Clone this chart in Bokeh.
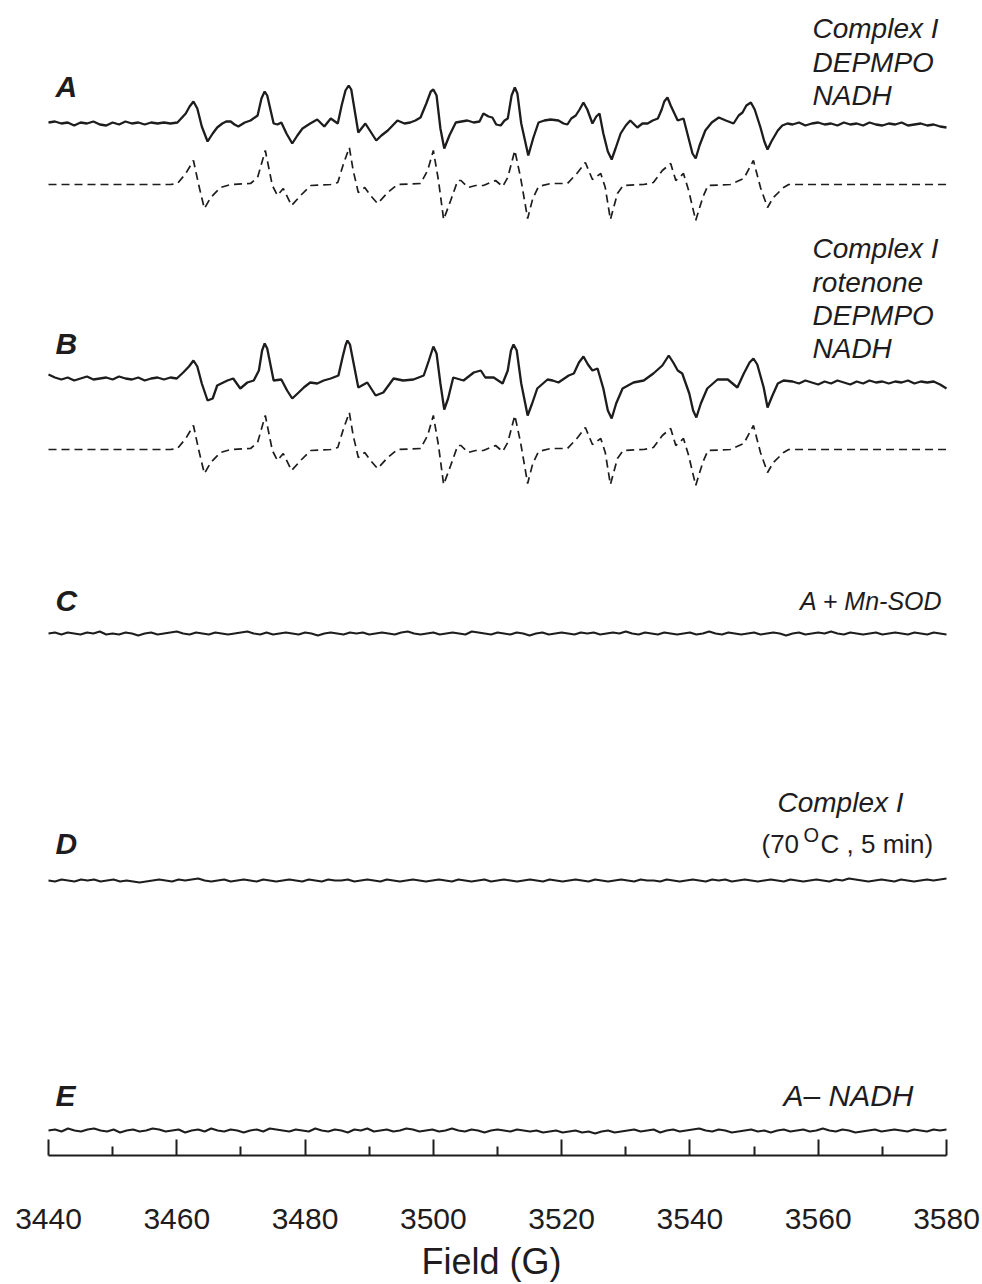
import numpy as np
from bokeh.plotting import figure
from bokeh.models import Range1d, FixedTicker, Label
from bokeh.embed import file_html
from bokeh.resources import INLINE

# ---------------- data ----------------
FIELD_MIN, FIELD_MAX = 3440, 3580
TICK_VALUES = [3440, 3460, 3480, 3500, 3520, 3540, 3560, 3580]
MINOR_TICK_VALUES = [3450, 3470, 3490, 3510, 3530, 3550, 3570]
X_TITLE = "Field (G)"

# A: Complex I + DEPMPO + NADH (experimental, solid); intensity in arbitrary units
A_LEFT_NOISE = [1, 2, 0, 1, -2, 1, 0, 2, -1, -2, 1, -1, 2, 0, 1, -1, 1, 0, 1]  # 3440..3458
A_SIGNAL = [
    (3459.0, 0), (3460.1, 1), (3461.4, 10), (3462.0, 17), (3462.6, 22), (3463.2, 15), (3463.9, -3),
    (3464.8, -18), (3465.6, -10), (3466.3, -4), (3467.1, 0), (3467.7, 2), (3468.4, 2), (3469.0, -1),
    (3469.6, -3), (3470.6, 1), (3471.5, 3), (3472.6, 8), (3473.2, 25), (3473.7, 32), (3474.1, 28),
    (3475.1, 0), (3475.7, -1), (3476.3, 1), (3477.1, -10), (3478.0, -20), (3478.8, -12), (3479.6, -5),
    (3480.8, 0), (3481.9, 4), (3483.0, -3), (3484.0, 5), (3485.1, 0), (3485.7, 18), (3486.3, 33),
    (3486.8, 38), (3487.2, 34), (3488.3, -9), (3489.4, 0), (3490.2, -8), (3491.1, -17), (3491.9, -12),
    (3492.9, -7), (3494.4, 3), (3495.5, 0), (3496.4, 1), (3497.2, 3), (3498.0, 6), (3498.9, 20),
    (3499.6, 32), (3500.0, 34), (3500.5, 28), (3501.1, -5), (3501.7, -25), (3502.5, -12), (3503.5, 1),
    (3504.4, 2), (3505.3, 3), (3506.3, 1), (3507.2, 2), (3507.8, 10), (3508.6, 7), (3509.2, 6),
    (3509.8, -1), (3510.5, -2), (3511.1, 3), (3511.6, 5), (3512.2, 28), (3512.7, 36), (3513.1, 30),
    (3513.7, 0), (3514.8, -32), (3515.6, -14), (3516.4, 1), (3517.3, 3), (3518.3, 4), (3519.5, 3),
    (3520.3, 0), (3520.9, -1), (3521.5, 5), (3522.2, 8), (3522.8, 14), (3523.4, 21), (3524.0, 14),
    (3524.8, 0), (3525.4, 7), (3525.9, 10), (3526.5, -10), (3527.2, -28), (3527.8, -36), (3528.4, -25),
    (3529.2, -10), (3530.0, -2), (3530.7, 3), (3531.8, -4), (3532.6, 0), (3533.4, 0), (3534.2, 3),
    (3535.0, 5), (3535.6, 14), (3536.0, 22), (3536.5, 26), (3537.0, 18), (3538.1, 3), (3539.0, 5),
    (3539.8, -15), (3540.4, -30), (3540.9, -35), (3541.5, -22), (3542.4, -7), (3543.4, 1), (3544.5, 6),
    (3545.6, 3), (3546.8, 0), (3547.6, 8), (3548.2, 11), (3548.8, 18), (3549.5, 21), (3550.1, 14),
    (3551.0, -4), (3551.6, -18), (3552.1, -26), (3552.7, -18), (3553.7, -7), (3554.4, -2), (3555.2, 0),
]
A_RIGHT_NOISE = [-1, 1, -2, 0, 1, -1, 0, -2, 1, -1, 0, -2, 1, -1, -2, 0, -1, 1, -2, -1, 0, -2, -1, -3, -4]  # 3556..3580

# simulated DEPMPO-OOH spectrum (dashed), used under A and B
SIM = [
    (3440, 0), (3459.0, 0), (3460.1, 1), (3461.4, 11), (3462.6, 24), (3463.4, 0), (3464.3, -24),
    (3465.3, -13), (3466.8, -3), (3468.4, 0), (3471.5, 1), (3472.6, 7), (3473.8, 34), (3474.9, -1),
    (3475.7, -11), (3476.6, -4), (3477.9, -21), (3479.3, -11), (3480.9, -1), (3484.0, 0), (3485.1, 2),
    (3486.0, 21), (3486.9, 37), (3487.5, 14), (3488.3, -8), (3489.3, -3), (3490.2, -11), (3491.3, -19),
    (3492.9, -8), (3494.4, 0), (3498.0, 1), (3499.1, 14), (3500.0, 34), (3500.8, 4), (3501.6, -35),
    (3502.7, -16), (3503.8, 4), (3504.3, 4), (3505.4, -3), (3506.6, -1), (3507.8, -1), (3509.7, 4),
    (3510.8, -2), (3511.6, 7), (3512.7, 34), (3513.6, 7), (3514.7, -34), (3515.5, -14), (3516.4, -2),
    (3518.3, 1), (3520.9, 1), (3522.5, 12), (3523.7, 22), (3524.8, 5), (3526.1, 11), (3526.8, -3),
    (3527.6, -35), (3528.7, -9), (3529.6, -1), (3532.8, 0), (3534.3, 2), (3535.7, 14), (3537.0, 21),
    (3537.8, 4), (3539.0, 11), (3539.8, -6), (3540.9, -36), (3542.0, -13), (3542.8, -1), (3546.3, 0),
    (3548.4, 6), (3549.9, 24), (3551.0, -3), (3552.1, -23), (3553.0, -13), (3554.6, -3), (3555.4, 0),
    (3580, 0),
]

# B: Complex I + rotenone + DEPMPO + NADH
B_LEFT_NOISE = [4, 1, -1, 1, -2, 0, 2, -1, 0, 1, -1, 2, 0, -1, 1, -2, 0, 1, -1, 1, 0]  # 3440..3460
B_SIGNAL = [
    (3461.0, 6), (3461.9, 12), (3462.6, 18), (3463.2, 12), (3463.9, -5), (3464.8, -22), (3465.6, -20),
    (3466.3, -7), (3467.9, -2), (3468.8, 0), (3469.9, -10), (3471.0, -4), (3472.0, -2), (3472.8, 8),
    (3473.3, 28), (3473.7, 35), (3474.1, 30), (3475.1, -2), (3476.3, -1), (3477.2, -12), (3478.0, -20),
    (3479.0, -14), (3479.8, -9), (3480.8, -4), (3481.9, -5), (3482.9, -2), (3484.0, 0), (3485.2, 3),
    (3485.8, 20), (3486.3, 33), (3486.6, 38), (3487.0, 34), (3488.3, -9), (3489.7, -4), (3491.0, -17),
    (3492.2, -14), (3493.8, 0), (3495.3, -2), (3496.9, -1), (3498.5, 3), (3499.3, 18), (3500.0, 32),
    (3500.5, 25), (3501.1, -5), (3501.7, -31), (3502.3, -20), (3503.1, 1), (3504.7, -2), (3506.3, 6),
    (3507.4, 8), (3508.1, 1), (3509.4, 1), (3510.8, -5), (3511.6, 8), (3512.1, 28), (3512.5, 34),
    (3513.0, 28), (3513.7, -5), (3514.7, -37), (3515.4, -25), (3516.2, -10), (3517.8, -1), (3518.6, -2),
    (3519.5, -4), (3521.1, 3), (3521.9, 5), (3522.7, 16), (3523.4, 22), (3524.1, 14), (3524.8, 8),
    (3525.6, 10), (3526.5, -10), (3527.2, -32), (3527.8, -40), (3528.5, -25), (3529.5, -10),
    (3531.2, -4), (3532.8, -2), (3534.3, 5), (3535.7, 13), (3536.7, 23), (3537.4, 16), (3538.1, 8),
    (3538.8, 5), (3539.9, -15), (3540.5, -32), (3541.0, -39), (3541.7, -25), (3542.7, -10),
    (3544.3, -1), (3545.9, -1), (3547.4, -9), (3548.4, 5), (3549.3, 16), (3549.9, 20), (3550.5, 14),
    (3551.5, -9), (3552.1, -29), (3552.8, -18), (3553.7, -5), (3554.6, -2),
]
B_RIGHT_NOISE = [-3, -5, -2, -4, -6, -3, -5, -2, -4, -6, -3, -5, -2, -4, -3, -5, -3, -4, -2, -5, -3, -4, -3, -6, -10]  # 3556..3580

# C: A + Mn-SOD ; D: heat-inactivated Complex I ; E: A - NADH  (3440..3580, 1 G steps)
C_NOISE = [0, 1, -1, 1, 0, -1, 1, 0, 2, -1, 0, -1, 1, 0, -2, 0, 1, -1, 0, 1, 2, 0, -1, 1, 0, -1, 1, 0,
           -1, 0, 1, 2, 0, -1, 1, -1, 0, 1, 0, -1, 1, 0, -2, 0, 1, 0, -1, 1, 0, 1, -1, 0, 1, 0, -1, 1,
           2, 0, -1, 0, 1, -1, 0, 1, 0, -1, 2, 1, 0, -1, 1, 0, -1, 1, 0, -2, 0, 1, -1, 0, 1, 0, -1, 1,
           0, 1, -1, 0, 1, 0, 2, 0, -1, 1, 0, -1, 1, 0, -1, 0, 1, -1, 0, 2, 0, -1, 1, 0, -1, 0, 1, -1,
           0, 1, 0, -2, 0, 1, -1, 0, 1, 0, 2, 0, -1, 1, 0, -1, 0, 1, -1, 0, 1, 0, -1, 1, 0, -1, 1, 0, -1]
D_NOISE = [0, -1, 1, 0, -1, 1, 0, 1, -1, 0, 1, -1, 0, -1, -2, -1, 0, 1, 0, -1, 1, 0, 1, 2, 0, -1, 0, 1,
           -1, 0, 1, 0, -1, 1, 0, -1, 0, 1, 0, -1, 1, 0, -1, 1, 0, 0, 1, -1, 0, 1, 0, -1, 1, 0, -1, 0,
           1, 0, -1, 0, 1, 0, -1, 1, 0, -1, 0, 1, -1, 0, 1, 0, -1, 0, 1, 0, -1, 1, 0, -1, 0, 1, 0, -1,
           1, 0, -1, 0, 1, 0, -1, 1, 0, 0, -1, 1, 0, -1, 0, 1, 0, -1, 1, 0, 1, -1, 0, 1, 0, -1, 0, 1,
           0, -1, 1, 0, -1, 0, 1, 0, -1, 1, 0, 2, 1, 0, -1, 0, 1, 0, -1, 1, 0, -1, 0, 1, 0, 1, 2]
E_NOISE = [0, 1, -1, 2, 0, -1, 1, 2, 0, -1, 1, -2, 0, 1, -1, 0, 2, 1, -1, 0, 1, -2, 0, 1, -1, 2, 0, -1,
           1, 0, -2, 0, 1, -1, 2, 1, 0, -1, 1, 0, -1, 2, 0, -1, 1, 0, -2, 1, 0, 2, -1, 0, 1, -1, 0, 2,
           1, -1, 0, 1, -1, 0, 2, 0, -1, 1, 0, -2, 0, 1, 0, -1, 1, 0, -1, 0, -2, -1, 0, -2, -1, 0, -2,
           -1, -3, -1, 0, -2, -1, 0, 1, -1, 0, 1, -2, 0, 1, -1, 0, 1, 2, 0, -1, 1, 0, -2, -1, 0, 1, -1,
           0, -2, 0, 1, -1, 0, 1, -1, 0, 2, 0, -1, 1, 0, -2, -1, 0, 1, -1, 0, 1, 0, -1, 1, 0, -1, 1, 0, 1]

# ---------------- layout helpers (image-pixel positions) ----------------
PX0, PX1 = 48, 946          # image x of 3440 and 3580
FIG_W, FIG_H = 982, 1284
AXIS_PY = 1155              # image y of the axis line (frame bottom)
SCALE = (FIELD_MAX - FIELD_MIN) / (PX1 - PX0)


def gx(px):
    return FIELD_MIN + (px - PX0) * SCALE


def gy(py):
    return -py


BASE = {"A": 123, "A_sim": 184, "B": 378, "B_sim": 449, "C": 633, "D": 880, "E": 1130}
INK = "#1e1c1d"
FONT = "Liberation Sans"


def build(left, signal, right, left_end, right_start):
    xs = list(np.linspace(FIELD_MIN, left_end, len(left))) + [s[0] for s in signal] + \
        list(np.linspace(right_start, FIELD_MAX, len(right)))
    ys = list(left) + [s[1] for s in signal] + list(right)
    return xs, ys


p = figure(width=FIG_W, height=FIG_H, x_range=Range1d(gx(0), gx(FIG_W)),
           y_range=Range1d(gy(AXIS_PY), 0), output_backend="svg",
           toolbar_location=None, title=None, min_border_left=0, min_border_right=0,
           min_border_top=0, min_border_bottom=FIG_H - AXIS_PY, y_axis_location=None)
p.xgrid.visible = False
p.ygrid.visible = False
p.outline_line_color = None
p.background_fill_color = "white"
p.border_fill_color = "white"

# traces
ax_, ay_ = build(A_LEFT_NOISE, A_SIGNAL, A_RIGHT_NOISE, 3458, 3556)
p.line(ax_, [gy(BASE["A"]) + v for v in ay_], line_width=2.3, color=INK)
sx = [s[0] for s in SIM]
sy = [s[1] for s in SIM]
p.line(sx, [gy(BASE["A_sim"]) + v for v in sy], line_width=1.7, color=INK, line_dash="8 5")

bx_, by_ = build(B_LEFT_NOISE, B_SIGNAL, B_RIGHT_NOISE, 3460, 3556)
p.line(bx_, [gy(BASE["B"]) + v for v in by_], line_width=2.3, color=INK)
p.line(sx, [gy(BASE["B_sim"]) + v for v in sy], line_width=1.7, color=INK, line_dash="8 5")

for key, arr in (("C", C_NOISE), ("D", D_NOISE), ("E", E_NOISE)):
    xs = np.linspace(FIELD_MIN, FIELD_MAX, len(arr))
    p.line(xs, [gy(BASE[key]) + v for v in arr], line_width=2.0, color=INK)

# axis
ax = p.xaxis[0]
ax.ticker = FixedTicker(ticks=TICK_VALUES, minor_ticks=MINOR_TICK_VALUES)
ax.bounds = (FIELD_MIN, FIELD_MAX)
ax.axis_line_width = 2
ax.axis_line_color = INK
ax.major_tick_in = 16
ax.major_tick_out = 0
ax.minor_tick_in = 9
ax.minor_tick_out = 0
ax.major_tick_line_width = 2
ax.minor_tick_line_width = 2
ax.major_tick_line_color = INK
ax.minor_tick_line_color = INK
ax.major_label_text_font = FONT
ax.major_label_text_font_size = "30px"
ax.major_label_text_color = INK
ax.major_label_standoff = 53
ax.axis_label = X_TITLE
ax.axis_label_text_font = FONT
ax.axis_label_text_font_size = "36px"
ax.axis_label_text_font_style = "normal"
ax.axis_label_text_color = INK
ax.axis_label_standoff = 9


def lab(px, py, text, size="28px", style="italic", align="left"):
    p.add_layout(Label(x=gx(px), y=gy(py), text=text, text_font=FONT, text_font_size=size,
                       text_font_style=style, text_color=INK, text_align=align,
                       text_baseline="middle"))


# panel letters
for letter, py in (("A", 86), ("B", 343), ("C", 600), ("D", 843), ("E", 1095)):
    lab(55, py, letter, size="30px", style="bold italic")

# annotations
for py, t in ((28, "Complex I"), (62, "DEPMPO"), (95, "NADH")):
    lab(812, py, t)
for py, t in ((248, "Complex I"), (282, "rotenone"), (315, "DEPMPO"), (348, "NADH")):
    lab(812, py, t)
lab(942, 600, "A + Mn-SOD", size="25px", align="right")
lab(777, 802, "Complex I")
lab(761, 843, "(70", size="26px", style="normal")
lab(803, 834, "O", size="20px", style="normal")
lab(820, 843, "C , 5 min)", size="26px", style="normal")
lab(783, 1095, "A\u2013 NADH", size="30px")

open("out.html", "w").write(file_html(p, INLINE))
